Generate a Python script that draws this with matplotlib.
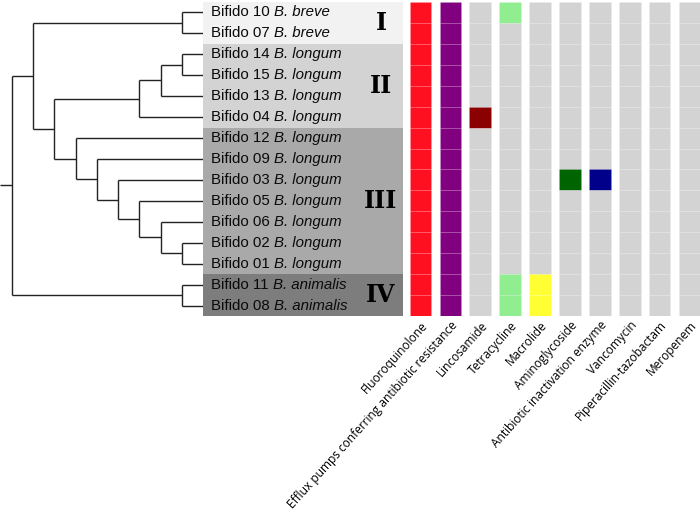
import matplotlib
matplotlib.use("Agg")
import matplotlib.pyplot as plt

# tips, top to bottom
strains = ['Bifido 10', 'Bifido 07', 'Bifido 14', 'Bifido 15', 'Bifido 13', 'Bifido 04',
           'Bifido 12', 'Bifido 09', 'Bifido 03', 'Bifido 05', 'Bifido 06', 'Bifido 02',
           'Bifido 01', 'Bifido 11', 'Bifido 08']
species = ['B. breve', 'B. breve', 'B. longum', 'B. longum', 'B. longum', 'B. longum',
           'B. longum', 'B. longum', 'B. longum', 'B. longum', 'B. longum', 'B. longum',
           'B. longum', 'B. animalis', 'B. animalis']
clades = ['I', 'I', 'II', 'II', 'II', 'II', 'III', 'III', 'III', 'III', 'III', 'III', 'III',
          'IV', 'IV']
clade_colors = {'I': '#f2f2f2', 'II': '#d3d3d3', 'III': '#a9a9a9', 'IV': '#7d7d7d'}

# cladogram topology (tip numbers)
tree = ((('10', '07'),
         (((('14', '15'), '13'), '04'),
          ('12', ('09', ('03', ('05', ('06', ('02', '01')))))))),
        ('11', '08'))

classes = ['Fluoroquinolone', 'Efflux pumps conferring antibiotic resistance', 'Lincosamide',
           'Tetracycline', 'Macrolide', 'Aminoglycoside', 'Antibiotic inactivation enzyme',
           'Vancomycin', 'Piperacillin-tazobactam', 'Meropenem']
class_colors = ['#ff1020', '#800080', '#8b0000', '#90ee90', '#ffff33', '#006400', '#00008b',
                '#d3d3d3', '#d3d3d3', '#d3d3d3']
absent_color = '#d3d3d3'

# presence (1) / absence (0), rows follow strains, columns follow classes
presence = [
    [1, 1, 0, 1, 0, 0, 0, 0, 0, 0],
    [1, 1, 0, 0, 0, 0, 0, 0, 0, 0],
    [1, 1, 0, 0, 0, 0, 0, 0, 0, 0],
    [1, 1, 0, 0, 0, 0, 0, 0, 0, 0],
    [1, 1, 0, 0, 0, 0, 0, 0, 0, 0],
    [1, 1, 1, 0, 0, 0, 0, 0, 0, 0],
    [1, 1, 0, 0, 0, 0, 0, 0, 0, 0],
    [1, 1, 0, 0, 0, 0, 0, 0, 0, 0],
    [1, 1, 0, 0, 0, 1, 1, 0, 0, 0],
    [1, 1, 0, 0, 0, 0, 0, 0, 0, 0],
    [1, 1, 0, 0, 0, 0, 0, 0, 0, 0],
    [1, 1, 0, 0, 0, 0, 0, 0, 0, 0],
    [1, 1, 0, 0, 0, 0, 0, 0, 0, 0],
    [1, 1, 0, 1, 1, 0, 0, 0, 0, 0],
    [1, 1, 0, 1, 1, 0, 0, 0, 0, 0],
]

W, H = 700, 516
fig = plt.figure(figsize=(W / 100, H / 100), dpi=100)


def px_axes(x0, y0, x1, y1):
    return fig.add_axes([x0 / W, 1 - y1 / H, (x1 - x0) / W, (y1 - y0) / H])


top, bottom = 2, 316
n = len(strains)
tip_row = {s.split()[1]: i for i, s in enumerate(strains)}


def height(node):
    if isinstance(node, str):
        return 0
    return 1 + max(height(c) for c in node)


max_h = height(tree)
line_kw = dict(color='#222222', lw=1.0, solid_capstyle='butt')


def draw(ax, node):
    # returns (x, y) of node
    if isinstance(node, str):
        return max_h, tip_row[node]
    x = max_h - height(node)
    pts = [draw(ax, c) for c in node]
    ys = [p[1] for p in pts]
    ax.plot([x, x], [min(ys), max(ys)], **line_kw)
    for cx, cy in pts:
        ax.plot([x, cx], [cy, cy], **line_kw)
    return x, sum(ys) / len(ys)


# tree
ax_t = px_axes(0, top, 203, bottom)
rx, ry = draw(ax_t, tree)
ax_t.plot([-0.57, rx], [ry, ry], **line_kw)
ax_t.set_xlim(-0.566, max_h)
ax_t.set_ylim(n - 0.5, -0.5)
ax_t.axis('off')

# tip labels with clade shading
ax_l = px_axes(203, top, 403, bottom)
ax_l.set_xlim(0, 1)
ax_l.set_ylim(n - 0.5, -0.5)
ax_l.axis('off')
for cl in clade_colors:
    rows = [i for i, c in enumerate(clades) if c == cl]
    ax_l.axhspan(min(rows) - 0.5, max(rows) + 0.5, color=clade_colors[cl], lw=0)
    ax_l.text(0.89, (min(rows) + max(rows)) / 2, cl, ha='center', va='center',
              family='DejaVu Serif', fontweight='heavy', fontsize=17, color='black')
for i, (s, sp) in enumerate(zip(strains, species)):
    t = ax_l.text(0.04, i, s + ' ', ha='left', va='center', family='Liberation Sans',
                  fontsize=10.8, color='#0a0a0a')
    ax_l.annotate(sp, xy=(1, 0), xycoords=t, ha='left', va='bottom',
                  family='Liberation Sans', style='italic', fontsize=10.8, color='#0a0a0a')

# heatmap
ax_h = px_axes(405.5, top, 700, bottom)
for j, col in enumerate(classes):
    for i in range(n):
        c = class_colors[j] if presence[i][j] else absent_color
        ax_h.bar(j, 1, bottom=i - 0.5, width=0.72, color=c, edgecolor=(1, 1, 1, 0.12),
                 lw=0.4)
ax_h.set_xlim(-0.5, 9.35)
ax_h.set_ylim(n - 0.5, -0.5)
ax_h.set_yticks([])
ax_h.set_xticks(range(len(classes)))
ax_h.set_xticklabels(classes, rotation=48, ha='right', va='top', rotation_mode='anchor',
                     family='Open Sans', fontsize=8.6, color='black')
ax_h.tick_params(axis='x', length=0, pad=2)
for s in ax_h.spines.values():
    s.set_visible(False)

fig.savefig('out.png', dpi=100)
